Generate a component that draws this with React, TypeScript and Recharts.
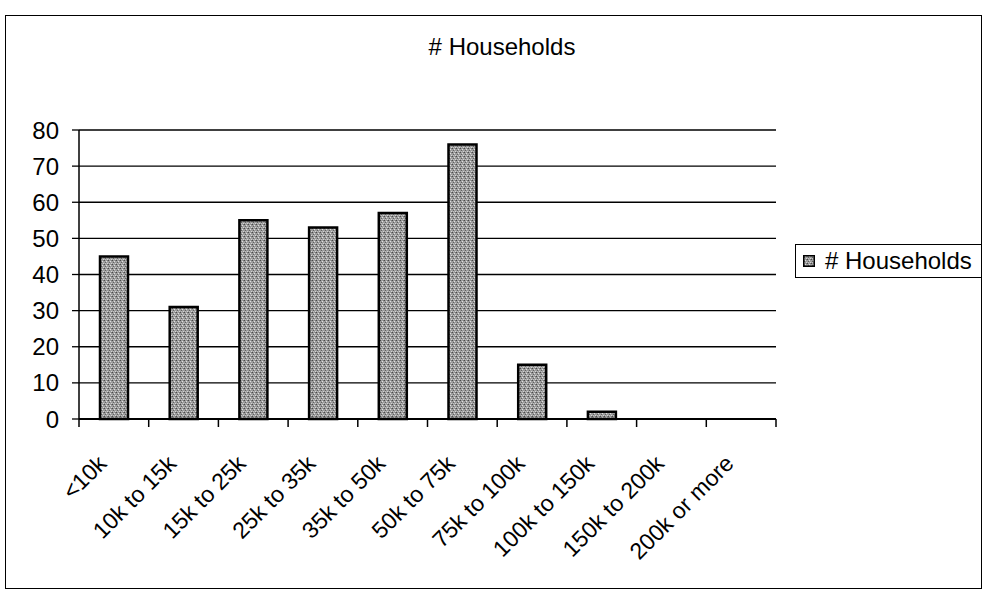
import React from "react";
import { BarChart, Bar, XAxis, YAxis, CartesianGrid } from "recharts";

const categories = [
  "<10k",
  "10k to 15k",
  "15k to 25k",
  "25k to 35k",
  "35k to 50k",
  "50k to 75k",
  "75k to 100k",
  "100k to 150k",
  "150k to 200k",
  "200k or more",
];
const households = [45, 31, 55, 53, 57, 76, 15, 2, 0, 0];
const yTicks = [0, 10, 20, 30, 40, 50, 60, 70, 80];
const seriesName = "# Households";
const chartTitle = "# Households";

const data = categories.map((c, i) => ({ name: c, value: households[i] }));

const W = 984;
const H = 598;
const M = { top: 130, right: 208, bottom: 29, left: 0 };
const Y_AXIS_W = 79;
const FONT = "'Liberation Sans', Arial, sans-serif";
const BAND = (W - M.left - Y_AXIS_W - M.right) / categories.length;

const XTick = (props: any) => {
  const { x, y, payload, index } = props;
  const ax = x - 6;
  const ay = y + 46;
  return (
    <g>
      <line x1={x + BAND / 2} x2={x + BAND / 2} y1={y} y2={y + 8} stroke="#000" strokeWidth={1.5} />
      {index === 0 && (
        <line x1={x - BAND / 2} x2={x - BAND / 2} y1={y} y2={y + 8} stroke="#000" strokeWidth={1.5} />
      )}
      <text
        x={ax}
        y={ay}
        textAnchor="end"
        fontSize={23}
        fontFamily={FONT}
        fill="#000"
        transform={`rotate(-45, ${ax}, ${ay})`}
      >
        {payload.value}
      </text>
    </g>
  );
};

const Stipple = ({ id }: { id: string }) => (
  <pattern id={id} width="4" height="4" patternUnits="userSpaceOnUse">
    <rect width="4" height="4" fill="#9c9c9c" />
    <rect x="0" y="0" width="1" height="1" fill="#4a4a4a" />
    <rect x="2" y="1" width="1" height="1" fill="#e0e0e0" />
    <rect x="1" y="2" width="1" height="1" fill="#606060" />
    <rect x="3" y="3" width="1" height="1" fill="#d4d4d4" />
    <rect x="3" y="0" width="1" height="1" fill="#7a7a7a" />
    <rect x="1" y="3" width="1" height="1" fill="#bdbdbd" />
  </pattern>
);

export default function App() {
  return (
    <div
      style={{
        position: "absolute",
        left: 0,
        top: 0,
        width: W,
        height: H,
        background: "#fff",
        fontFamily: FONT,
      }}
    >
      <div
        style={{
          position: "absolute",
          left: 5,
          top: 15,
          width: 977,
          height: 574,
          border: "1.5px solid #000",
          boxSizing: "border-box",
        }}
      />
      <div
        style={{
          position: "absolute",
          left: 0,
          width: 1004,
          top: 33,
          textAlign: "center",
          fontSize: 24,
          color: "#000",
          lineHeight: "28px",
        }}
      >
        {chartTitle}
      </div>
      <div style={{ position: "absolute", left: 0, top: 0 }}>
        <BarChart width={W} height={H} data={data} margin={M} barSize={28}>
          <defs>
            <Stipple id="stip" />
          </defs>
          <CartesianGrid vertical={false} stroke="#000" strokeWidth={1.3} />
          <XAxis
            dataKey="name"
            interval={0}
            height={150}
            tickSize={0}
            tickMargin={0}
            tickLine={false}
            axisLine={{ stroke: "#000", strokeWidth: 2 }}
            tick={<XTick />}
          />
          <YAxis
            width={Y_AXIS_W}
            domain={[0, 80]}
            ticks={yTicks}
            interval={0}
            tickSize={7}
            tickMargin={13}
            axisLine={{ stroke: "#000", strokeWidth: 1.5 }}
            tickLine={{ stroke: "#000", strokeWidth: 1.3 }}
            tick={{ fontSize: 24, fill: "#000", fontFamily: FONT }}
          />
          <YAxis
            yAxisId="r"
            orientation="right"
            width={0}
            domain={[0, 80]}
            tick={false}
            tickLine={false}
            axisLine={{ stroke: "#000", strokeWidth: 1.3 }}
          />
          <Bar
            dataKey="value"
            name={seriesName}
            fill="url(#stip)"
            stroke="#000"
            strokeWidth={2.5}
            isAnimationActive={false}
          />
        </BarChart>
      </div>
      <div
        style={{
          position: "absolute",
          left: 795,
          top: 244,
          width: 187,
          height: 34,
          border: "1.5px solid #000",
          boxSizing: "border-box",
          display: "flex",
          alignItems: "center",
          background: "#fff",
        }}
      >
        <svg width={12} height={12} style={{ marginLeft: 7, marginRight: 10, flex: "none" }}>
          <defs>
            <Stipple id="stipL" />
          </defs>
          <rect x={0.75} y={0.75} width={10.5} height={10.5} fill="url(#stipL)" stroke="#000" strokeWidth={1.5} />
        </svg>
        <span style={{ fontSize: 24, color: "#000", whiteSpace: "nowrap" }}>{seriesName}</span>
      </div>
    </div>
  );
}
